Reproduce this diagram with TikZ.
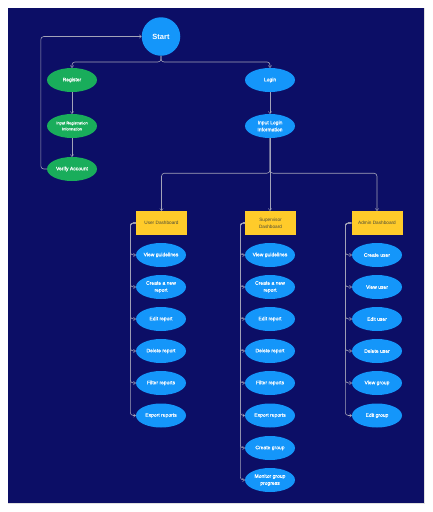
\documentclass[tikz,border=0pt]{standalone}
\usepackage{fontspec}
\setmainfont{Liberation Sans}
\newfontfamily\medfont[FakeBold=0.35]{Liberation Sans}
\usetikzlibrary{shapes.geometric,arrows.meta}
\definecolor{navy}{HTML}{0C0E66}
\definecolor{nodeblue}{HTML}{1496FA}
\definecolor{nodegreen}{HTML}{19AD5B}
\definecolor{dashyellow}{HTML}{FFCB2A}
\definecolor{linegray}{HTML}{A3A3B8}
\definecolor{dashtext}{HTML}{4A4A3A}
\tikzset{
  oval/.style={ellipse, fill=nodeblue, minimum width=50pt, minimum height=24pt, inner sep=0pt,
    text=white, align=center, font=\medfont\fontsize{5}{7}\selectfont},
  greenoval/.style={oval, fill=nodegreen},
  dashbox/.style={rectangle, fill=dashyellow, minimum width=51pt, minimum height=24pt, inner sep=0pt,
    text=dashtext, align=center, font=\fontsize{4.7}{6.8}\selectfont},
  startnode/.style={circle, fill=nodeblue, minimum size=38.5pt, inner sep=0pt, text=white,
    font=\fontsize{7.5}{9}\selectfont\bfseries},
  conn/.style={draw=linegray, line width=0.6pt, rounded corners=3pt,
    -{Straight Barb[length=1.8pt,width=3.4pt,line width=0.5pt]}},
}
\begin{document}
\begin{tikzpicture}[x=1pt,y=-1pt]
\useasboundingbox (0,0) rectangle (432,512);
\fill[white] (0,0) rectangle (432,512);
\fill[gray!25] (7.5,7.5) rectangle (424.8,504);
\fill[navy] (8,8) rectangle (424,503);

% top part
\node[startnode] (start) at (161,36.5) {Start};
\node[greenoval] (reg) at (72,80) {Register};
\node[greenoval, font=\medfont\fontsize{4}{6}\selectfont] (regin) at (72,126) {Input Registration\\Information};
\node[greenoval] (verify) at (72,169) {Verify Account};
\node[oval] (login) at (270,80) {Login};
\node[oval] (login2) at (270,126) {Input Login\\Information};

% dashboards
\node[dashbox] (udash) at (161.5,223) {User Dashboard};
\node[dashbox] (sdash) at (270.5,223) {Supervisor\\Dashboard};
\node[dashbox] (adash) at (377,223) {Admin Dashboard};

% user column
\node[oval] (u1) at (161,255) {View guidelines};
\node[oval] (u2) at (161,287) {Create a new\\report};
\node[oval] (u3) at (161,319) {Edit report};
\node[oval] (u4) at (161,351) {Delete report};
\node[oval] (u5) at (161,383) {Filter reports};
\node[oval] (u6) at (161,415.5) {Export reports};

% supervisor column
\node[oval] (s1) at (270,255) {View guidelines};
\node[oval] (s2) at (270,287) {Create a new\\report};
\node[oval] (s3) at (270,319) {Edit report};
\node[oval] (s4) at (270,351) {Delete report};
\node[oval] (s5) at (270,383) {Filter reports};
\node[oval] (s6) at (270,415.5) {Export reports};
\node[oval] (s7) at (270,448) {Create group};
\node[oval] (s8) at (270,480) {Monitor group\\progress};

% admin column
\node[oval] (a1) at (377,255) {Create user};
\node[oval] (a2) at (377,287) {View user};
\node[oval] (a3) at (377,319) {Edit user};
\node[oval] (a4) at (377,351) {Delete user};
\node[oval] (a5) at (377,383) {View group};
\node[oval] (a6) at (377,415.5) {Edit group};

% connectors, top
\draw[conn] (start.south) -- ++(0,6) -| (reg.north);
\draw[conn] (start.south) -- ++(0,6) -| (login.north);
\draw[conn] (reg) -- (regin);
\draw[conn] (regin) -- (verify);
\draw[conn] (verify.west) -- ++(-6,0) |- (start.west);
\draw[conn] (login) -- (login2);
\draw[conn] (login2.south) -- ++(0,35) -| (udash.north);
\draw[conn] (login2.south) -- (login2.south |- sdash.north);
\draw[conn] (login2.south) -- ++(0,35) -| (adash.north);

% dashboards to items
\foreach \i in {1,...,6} \draw[conn] (udash.west) -- ++(-5.5,0) |- (u\i.west);
\foreach \i in {1,...,8} \draw[conn] (sdash.west) -- ++(-4.5,0) |- (s\i.west);
\foreach \i in {1,...,6} \draw[conn] (adash.west) -- ++(-6,0) |- (a\i.west);
\end{tikzpicture}
\end{document}
